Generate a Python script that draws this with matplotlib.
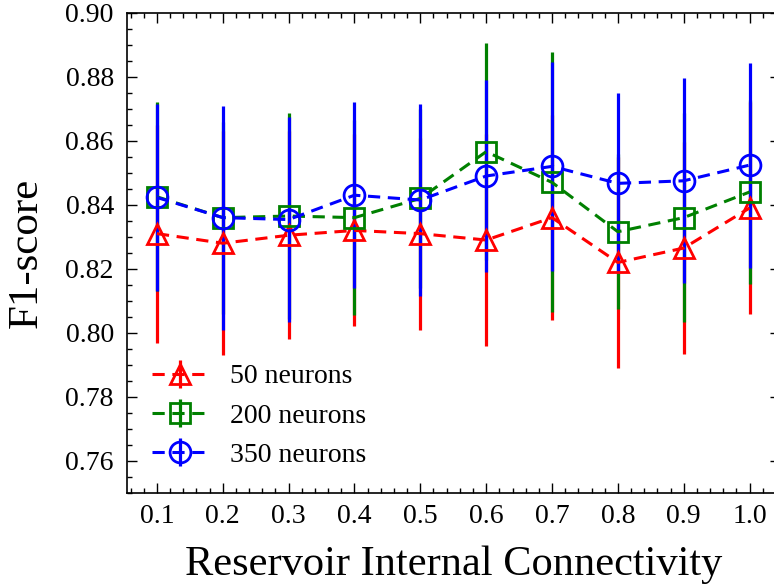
import numpy as np
import matplotlib.pyplot as plt
from matplotlib.ticker import MultipleLocator, FormatStrFormatter

plt.rcParams["font.family"] = ["Liberation Serif", "DejaVu Serif"]
plt.rcParams["mathtext.fontset"] = "stix"

connectivity = [0.1, 0.2, 0.3, 0.4, 0.5, 0.6, 0.7, 0.8, 0.9, 1.0]

f1_50 = [0.831, 0.828, 0.8305, 0.832, 0.831, 0.829, 0.836, 0.822, 0.8265, 0.839]
err_50 = [0.034, 0.035, 0.0325, 0.030, 0.030, 0.033, 0.032, 0.033, 0.033, 0.033]

f1_200 = [0.8425, 0.836, 0.8365, 0.836, 0.842, 0.8566, 0.847, 0.8316, 0.836, 0.844]
err_200 = [0.0295, 0.030, 0.0323, 0.0305, 0.028, 0.0338, 0.0406, 0.0242, 0.0326, 0.0288]

f1_350 = [0.8423, 0.836, 0.8354, 0.843, 0.8415, 0.849, 0.852, 0.8467, 0.8475, 0.8524]
err_350 = [0.0293, 0.035, 0.032, 0.029, 0.030, 0.030, 0.0327, 0.0281, 0.032, 0.032]

series = [
    ("50 neurons", f1_50, err_50, "red", "^"),
    ("200 neurons", f1_200, err_200, "green", "s"),
    ("350 neurons", f1_350, err_350, "blue", "o"),
]

fig = plt.figure(figsize=(7.74, 5.86), dpi=100)
ax = fig.add_axes([127 / 774, 1 - 493 / 586, 652.5 / 774, 480.3 / 586])

for label, y, err, color, marker in series:
    ax.errorbar(
        connectivity, y, yerr=err,
        color=color, ecolor=color, elinewidth=2.3, capsize=0,
        linestyle="--", linewidth=2.2, dashes=(4, 2.5),
        marker=marker, markersize=15, markerfacecolor="none",
        markeredgewidth=2.0, label=label,
    )

ax.set_xlim(0.0545, 1.0455)
ax.set_ylim(0.75, 0.90)
ax.xaxis.set_major_locator(MultipleLocator(0.1))
ax.xaxis.set_minor_locator(MultipleLocator(0.02))
ax.yaxis.set_major_locator(MultipleLocator(0.02))
ax.yaxis.set_minor_locator(MultipleLocator(0.005))
ax.xaxis.set_major_formatter(FormatStrFormatter("%.1f"))
ax.yaxis.set_major_formatter(FormatStrFormatter("%.2f"))

ax.tick_params(which="both", direction="in", top=True, right=True, width=1.0)
ax.tick_params(which="major", length=7, labelsize=20, pad=8)
ax.tick_params(axis="y", which="major", pad=9.5)
ax.tick_params(which="minor", length=3.4)
for s in ax.spines.values():
    s.set_linewidth(1.2)

ax.set_xlabel("Reservoir Internal Connectivity", fontsize=30.5, labelpad=12)
ax.set_ylabel("F1-score", fontsize=31, labelpad=14)

ax.legend(loc="lower left", frameon=False, fontsize=20)

fig.savefig("out.png", dpi=100)
